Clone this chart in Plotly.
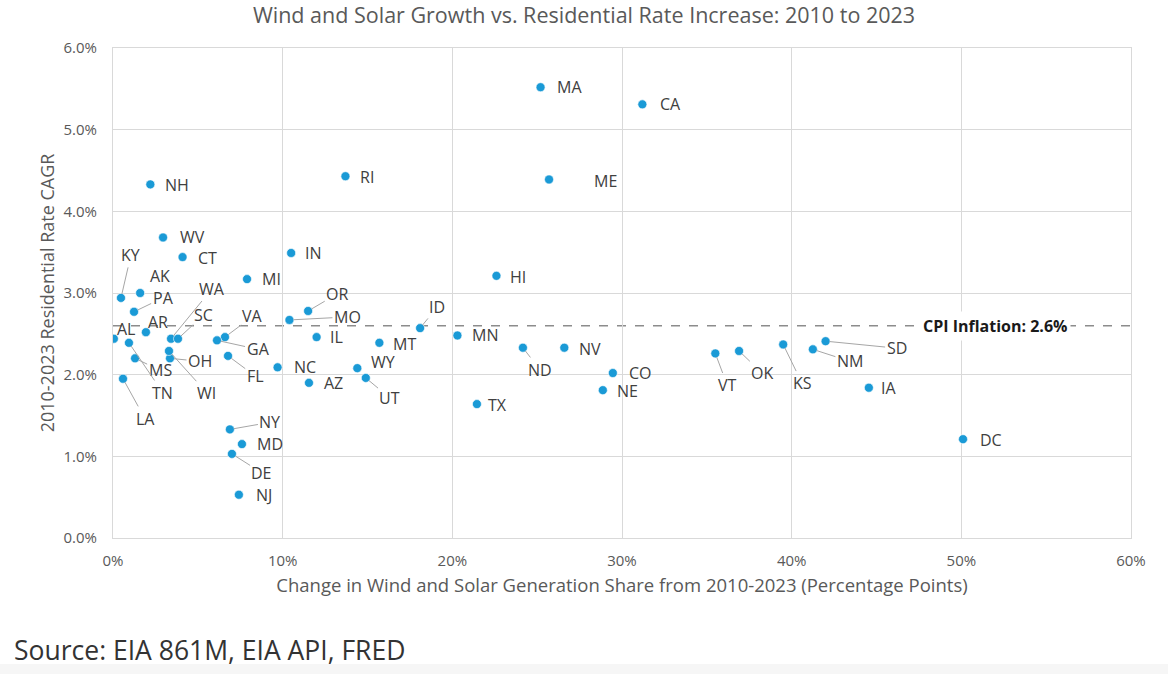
import plotly.graph_objects as go

# ---------------- data ----------------
states = ["MA", "CA", "ME", "RI", "NH", "WV", "CT", "IN", "MI", "HI",
          "KY", "AK", "PA", "AR", "AL", "OR", "MO", "IL", "ID", "MN",
          "MT", "WY", "UT", "NC", "AZ", "TX", "ND", "NV", "CO", "NE",
          "VT", "OK", "KS", "NM", "SD", "IA", "DC", "WA", "SC", "OH",
          "WI", "VA", "GA", "FL", "MS", "TN", "LA", "NY", "MD", "DE", "NJ"]
wind_solar_change = [25.2, 31.2, 25.7, 13.7, 2.2, 2.95, 4.1, 10.5, 7.9, 22.6,
                     0.47, 1.6, 1.24, 1.94, 0.05, 11.5, 10.4, 12.0, 18.1, 20.3,
                     15.7, 14.4, 14.9, 9.7, 11.55, 21.45, 24.16, 26.6, 29.46, 28.87,
                     35.5, 36.9, 39.5, 41.25, 42.0, 44.55, 50.1, 3.42, 3.83, 3.36,
                     3.3, 6.6, 6.13, 6.78, 1.3, 0.94, 0.59, 6.89, 7.6, 7.01, 7.42]
rate_cagr = [5.52, 5.31, 4.39, 4.43, 4.33, 3.68, 3.44, 3.49, 3.17, 3.21,
             2.94, 3.00, 2.77, 2.52, 2.44, 2.78, 2.67, 2.46, 2.57, 2.48,
             2.39, 2.08, 1.96, 2.09, 1.90, 1.64, 2.33, 2.33, 2.02, 1.81,
             2.26, 2.29, 2.37, 2.31, 2.41, 1.84, 1.21, 2.44, 2.44, 2.20,
             2.29, 2.46, 2.42, 2.23, 2.20, 2.39, 1.95, 1.33, 1.15, 1.03, 0.53]
cpi_inflation = 2.6
x_ticks = [0, 10, 20, 30, 40, 50, 60]
y_ticks = [0, 1, 2, 3, 4, 5, 6]
x_tick_text = [f"{v}%" for v in x_ticks]
y_tick_text = [f"{v:.1f}%" for v in y_ticks]

# ---------------- label placement (pixel offsets) ----------------
# (dx, dy, leader_line)
label_pos = {
    "MA": (29, 0, False), "CA": (28, 0, False), "ME": (56, 2, False),
    "RI": (22, 1, False), "NH": (27, 1, False), "WV": (29, 0, False),
    "CT": (25, 1, False), "IN": (22, 0, False), "MI": (24, 0, False),
    "HI": (22, 1, False), "AK": (20, -17, False), "AR": (12, -10, False),
    "AL": (12, -10, False), "IL": (20, 0, False), "MN": (28, 0, False),
    "MT": (25, 1, False), "WY": (26, -6, False), "NC": (27, 0, False),
    "AZ": (25, 0, False), "TX": (21, 1, False), "NV": (26, 1, False),
    "CO": (28, 0, False), "NE": (25, 1, False), "IA": (20, 0, False),
    "DC": (28, 1, False), "NJ": (25, 0, False), "MD": (28, 0, False),
    "KY": (10, -43, True), "PA": (29, -14, True), "WA": (41, -50, True),
    "SC": (26, -24, True), "VA": (28, -21, True), "GA": (41, 9, True),
    "FL": (27, 20, True), "OH": (30, 3, True), "WI": (38, 42, True),
    "MS": (25, 12, True), "TN": (34, 50, True), "LA": (22, 40, True),
    "OR": (29, -17, True), "MO": (58, -3, True), "ID": (17, -21, True),
    "UT": (24, 20, True), "ND": (17, 22, True), "NY": (40, -7, True),
    "DE": (30, 19, True), "VT": (12, 32, True), "OK": (23, 22, True),
    "KS": (19, 39, True), "NM": (37, 12, True), "SD": (71, 7, True),
}

FONT = "'Open Sans', Lato, sans-serif"
GRID = "#d9d9d9"
TXT = "#595959"
L, R, T, B = 113, 37, 48, 136
W, H = 1168, 674
PW, PH = W - L - R, H - T - B

fig = go.Figure()
fig.add_trace(go.Scatter(
    x=wind_solar_change, y=rate_cagr, mode="markers",
    marker=dict(color="#1a9ad6", size=9, line=dict(color="#ffffff", width=0.6)),
    text=states, hoverinfo="text+x+y", showlegend=False,
))

annotations = []
for s, x, y in zip(states, wind_solar_change, rate_cagr):
    dx, dy, leader = label_pos[s]
    if leader:
        annotations.append(dict(
            x=x, y=y, xref="x", yref="y", text=s, showarrow=True,
            ax=dx, ay=dy, arrowhead=0, arrowwidth=1, arrowcolor="#a6a6a6",
            standoff=4, startstandoff=1, borderpad=0,
            font=dict(family=FONT, size=16, color="#404040"),
        ))
    else:
        annotations.append(dict(
            x=x, y=y, xref="x", yref="y", text=s, showarrow=False,
            xshift=dx, yshift=-dy, xanchor="center", yanchor="middle", borderpad=0,
            font=dict(family=FONT, size=16, color="#404040"),
        ))

annotations.append(dict(
    x=52.0, y=cpi_inflation, xref="x", yref="y",
    text="<b>CPI Inflation: 2.6%</b>", showarrow=False,
    bgcolor="#ffffff", borderpad=3,
    font=dict(family=FONT, size=16, color="#1a1a1a"),
))
annotations.append(dict(
    x=(12 - L) / PW, y=-(650 - (T + PH)) / PH, xref="paper", yref="paper",
    text="Source: EIA 861M, EIA API, FRED",
    showarrow=False, xanchor="left", yanchor="middle",
    font=dict(family="'Open Sans', sans-serif", size=26.5, color="#333333"),
))

fig.add_shape(type="line", xref="paper", yref="y", x0=0, x1=1,
              y0=cpi_inflation, y1=cpi_inflation,
              line=dict(color="#8c8c8c", width=1.5, dash="dash"), layer="below")
# faint grey band at the bottom of the image
fig.add_shape(type="rect", xref="paper", yref="paper",
              x0=-L / PW, x1=1 + R / PW,
              y0=-(H - T - PH) / PH, y1=-(664 - (T + PH)) / PH,
              fillcolor="#f6f6f6", line=dict(width=0), layer="below")

fig.update_layout(
    width=W, height=H,
    margin=dict(l=L, r=R, t=T, b=B),
    paper_bgcolor="#ffffff", plot_bgcolor="#ffffff",
    title=dict(text="Wind and Solar Growth vs. Residential Rate Increase: 2010 to 2023",
               x=0.5, xref="container", xanchor="center", y=1 - 15 / H, yanchor="middle",
               font=dict(family=FONT, size=21.5, color=TXT)),
    annotations=annotations,
    xaxis=dict(range=[0, 60], tickmode="array", tickvals=x_ticks, ticktext=x_tick_text,
               showgrid=True, gridcolor=GRID, gridwidth=1,
               showline=True, linecolor=GRID, linewidth=1, mirror=True, zeroline=False,
               ticklabelstandoff=9,
               tickfont=dict(family=FONT, size=15, color=TXT),
               title=dict(text="Change in Wind and Solar Generation Share from 2010-2023 (Percentage Points)",
                          font=dict(family=FONT, size=18.5, color=TXT), standoff=10)),
    yaxis=dict(range=[0, 6], tickmode="array", tickvals=y_ticks, ticktext=y_tick_text,
               showgrid=True, gridcolor=GRID, gridwidth=1,
               showline=True, linecolor=GRID, linewidth=1, mirror=True, zeroline=False,
               ticklabelstandoff=12,
               tickfont=dict(family=FONT, size=15, color=TXT),
               title=dict(text="2010-2023 Residential Rate CAGR",
                          font=dict(family=FONT, size=18, color=TXT), standoff=4)),
)

fig.write_html("out.html")
